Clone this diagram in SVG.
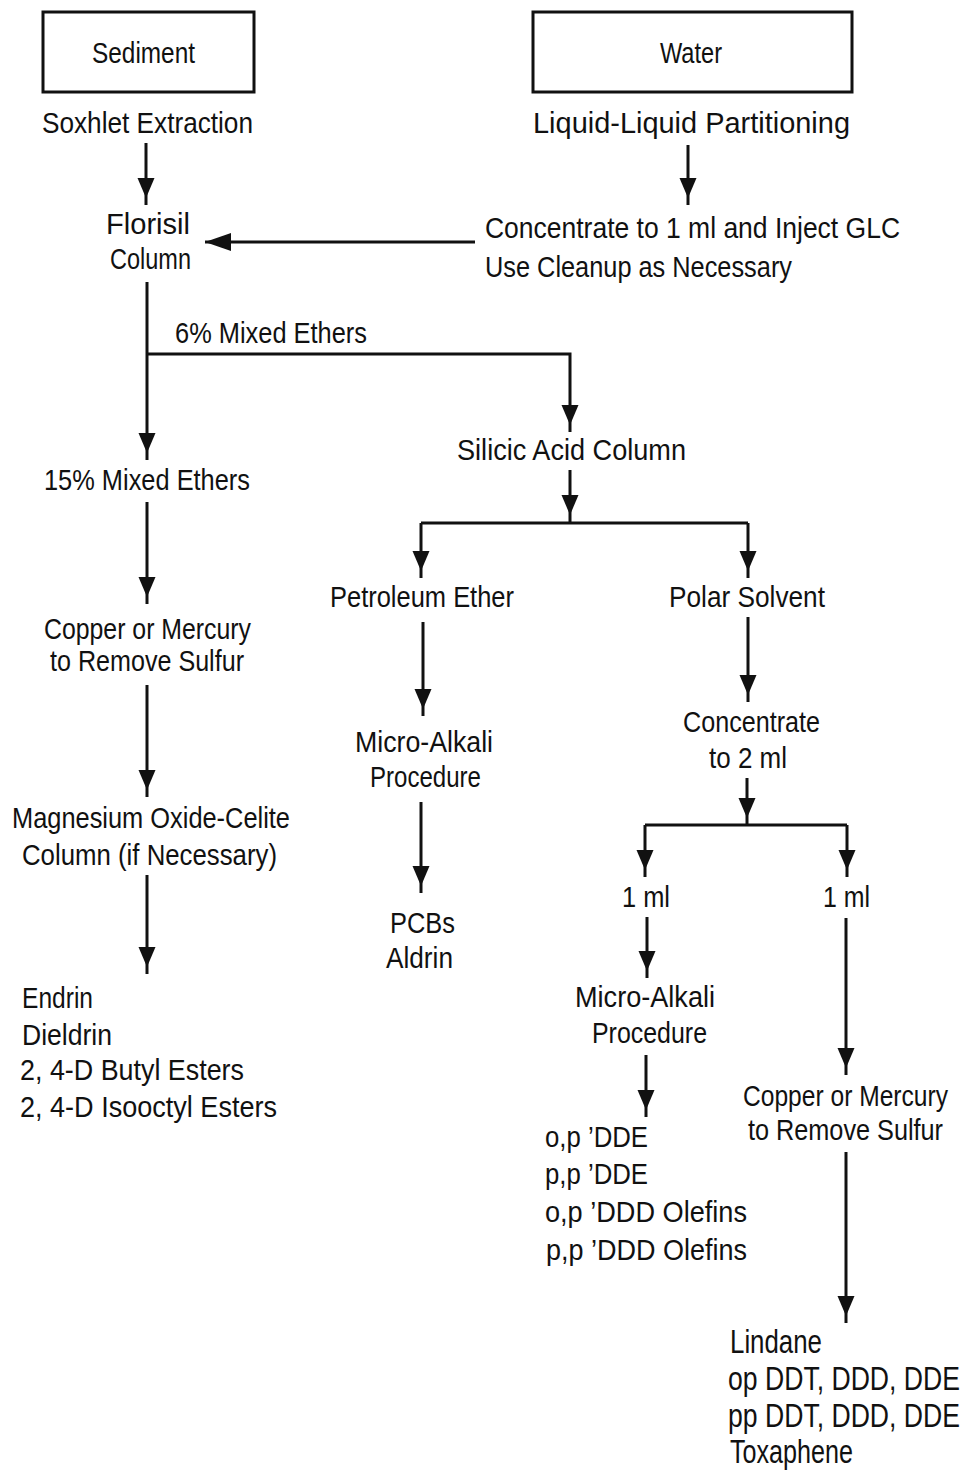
<svg xmlns="http://www.w3.org/2000/svg" width="967" height="1471" viewBox="0 0 967 1471">
<defs>
<style>
text{font-family:"Liberation Sans Narrow","Liberation Sans",Arial,sans-serif;font-size:30px;fill:#111;}
.big{font-size:33px;}
.box{fill:none;stroke:#111;stroke-width:3;}
.c{fill:none;stroke:#111;stroke-width:3;}
.a{marker-end:url(#ah);}
.h{marker-end:url(#ahl);}
</style>
<marker id="ah" markerUnits="userSpaceOnUse" markerWidth="40" markerHeight="24" viewBox="0 -12 40 24" refX="27" refY="0" orient="auto" overflow="visible">
<path d="M0,-8.5 L20,0 L0,8.5 Z" fill="#111"/>
</marker>
<marker id="ahl" markerUnits="userSpaceOnUse" markerWidth="40" markerHeight="24" viewBox="0 -12 40 24" refX="26" refY="0" orient="auto" overflow="visible">
<path d="M0,-9 L26,0 L0,9 Z" fill="#111"/>
</marker>
</defs>
<rect width="967" height="1471" fill="#fff"/>

<g id="connectors">
<line class="c a" x1="146" y1="143" x2="146" y2="205"/>
<line class="c a" x1="688" y1="145" x2="688" y2="205"/>
<line class="c h" x1="475" y1="242" x2="205" y2="242"/>
<line class="c a" x1="147" y1="282" x2="147" y2="460"/>
<path class="c a" d="M147,354 H570 V432"/>
<line class="c a" x1="570" y1="470" x2="570" y2="522"/>
<line class="c" x1="421" y1="523" x2="748" y2="523"/>
<line class="c a" x1="421" y1="523" x2="421" y2="578"/>
<line class="c a" x1="748" y1="523" x2="748" y2="578"/>
<line class="c a" x1="147" y1="502" x2="147" y2="604"/>
<line class="c a" x1="423" y1="622" x2="423" y2="716"/>
<line class="c a" x1="748" y1="617" x2="748" y2="702"/>
<line class="c a" x1="147" y1="685" x2="147" y2="797"/>
<line class="c a" x1="747" y1="778" x2="747" y2="825"/>
<line class="c" x1="645" y1="825" x2="847" y2="825"/>
<line class="c a" x1="645" y1="825" x2="645" y2="877"/>
<line class="c a" x1="847" y1="825" x2="847" y2="877"/>
<line class="c a" x1="421" y1="802" x2="421" y2="893"/>
<line class="c a" x1="147" y1="875" x2="147" y2="974"/>
<line class="c a" x1="647" y1="917" x2="647" y2="978"/>
<line class="c a" x1="846" y1="918" x2="846" y2="1075"/>
<line class="c a" x1="646" y1="1055" x2="646" y2="1117"/>
<line class="c a" x1="846" y1="1152" x2="846" y2="1323"/>
</g>

<g id="sediment">
<rect class="box" x="43" y="12" width="211" height="80"/>
<text x="92" y="63" textLength="103" lengthAdjust="spacingAndGlyphs">Sediment</text>
</g>
<g id="water">
<rect class="box" x="533" y="12" width="319" height="80"/>
<text x="660" y="63" textLength="62" lengthAdjust="spacingAndGlyphs">Water</text>
</g>
<g id="soxhlet">
<text x="42" y="133" textLength="211" lengthAdjust="spacingAndGlyphs">Soxhlet Extraction</text>
</g>
<g id="partitioning">
<text x="533" y="133" textLength="317" lengthAdjust="spacingAndGlyphs">Liquid-Liquid Partitioning</text>
</g>
<g id="florisil">
<text x="106" y="234" textLength="84" lengthAdjust="spacingAndGlyphs">Florisil</text>
<text x="110" y="269" textLength="81" lengthAdjust="spacingAndGlyphs">Column</text>
</g>
<g id="concentrate1">
<text x="485" y="238" textLength="415" lengthAdjust="spacingAndGlyphs">Concentrate to 1 ml and Inject GLC</text>
<text x="485" y="277" textLength="307" lengthAdjust="spacingAndGlyphs">Use Cleanup as Necessary</text>
</g>
<g id="ethers6">
<text x="175" y="343" textLength="192" lengthAdjust="spacingAndGlyphs">6% Mixed Ethers</text>
</g>
<g id="silicic">
<text x="457" y="460" textLength="229" lengthAdjust="spacingAndGlyphs">Silicic Acid Column</text>
</g>
<g id="ethers15">
<text x="44" y="490" textLength="206" lengthAdjust="spacingAndGlyphs">15% Mixed Ethers</text>
</g>
<g id="petroleum">
<text x="330" y="607" textLength="184" lengthAdjust="spacingAndGlyphs">Petroleum Ether</text>
</g>
<g id="polar">
<text x="669" y="607" textLength="156" lengthAdjust="spacingAndGlyphs">Polar Solvent</text>
</g>
<g id="copper1">
<text x="44" y="639" textLength="207" lengthAdjust="spacingAndGlyphs">Copper or Mercury</text>
<text x="50" y="671" textLength="194" lengthAdjust="spacingAndGlyphs">to Remove Sulfur</text>
</g>
<g id="microalkali1">
<text x="355" y="752" textLength="138" lengthAdjust="spacingAndGlyphs">Micro-Alkali</text>
<text x="370" y="787" textLength="111" lengthAdjust="spacingAndGlyphs">Procedure</text>
</g>
<g id="concentrate2">
<text x="683" y="732" textLength="137" lengthAdjust="spacingAndGlyphs">Concentrate</text>
<text x="709" y="768" textLength="78" lengthAdjust="spacingAndGlyphs">to 2 ml</text>
</g>
<g id="magnesium">
<text x="12" y="828" textLength="278" lengthAdjust="spacingAndGlyphs">Magnesium Oxide-Celite</text>
<text x="22" y="865" textLength="255" lengthAdjust="spacingAndGlyphs">Column (if Necessary)</text>
</g>
<g id="ml1">
<text x="622" y="907" textLength="48" lengthAdjust="spacingAndGlyphs">1 ml</text>
</g>
<g id="ml2">
<text x="823" y="907" textLength="47" lengthAdjust="spacingAndGlyphs">1 ml</text>
</g>
<g id="pcbs">
<text x="390" y="933" textLength="65" lengthAdjust="spacingAndGlyphs">PCBs</text>
<text x="386" y="968" textLength="67" lengthAdjust="spacingAndGlyphs">Aldrin</text>
</g>
<g id="endrin">
<text x="22" y="1008" textLength="71" lengthAdjust="spacingAndGlyphs">Endrin</text>
<text x="22" y="1045" textLength="90" lengthAdjust="spacingAndGlyphs">Dieldrin</text>
<text x="20" y="1080" textLength="224" lengthAdjust="spacingAndGlyphs">2, 4-D Butyl Esters</text>
<text x="20" y="1117" textLength="257" lengthAdjust="spacingAndGlyphs">2, 4-D Isooctyl Esters</text>
</g>
<g id="microalkali2">
<text x="575" y="1007" textLength="140" lengthAdjust="spacingAndGlyphs">Micro-Alkali</text>
<text x="592" y="1043" textLength="115" lengthAdjust="spacingAndGlyphs">Procedure</text>
</g>
<g id="copper2">
<text x="743" y="1106" textLength="205" lengthAdjust="spacingAndGlyphs">Copper or Mercury</text>
<text x="748" y="1140" textLength="195" lengthAdjust="spacingAndGlyphs">to Remove Sulfur</text>
</g>
<g id="dde">
<text x="545" y="1147" textLength="103" lengthAdjust="spacingAndGlyphs">o,p ’DDE</text>
<text x="545" y="1184" textLength="103" lengthAdjust="spacingAndGlyphs">p,p ’DDE</text>
<text x="545" y="1222" textLength="202" lengthAdjust="spacingAndGlyphs">o,p ’DDD Olefins</text>
<text x="546" y="1260" textLength="201" lengthAdjust="spacingAndGlyphs">p,p ’DDD Olefins</text>
</g>
<g id="lindane">
<text class="big" x="730" y="1353" textLength="92" lengthAdjust="spacingAndGlyphs">Lindane</text>
<text class="big" x="728" y="1390" textLength="232" lengthAdjust="spacingAndGlyphs">op DDT, DDD, DDE</text>
<text class="big" x="728" y="1427" textLength="232" lengthAdjust="spacingAndGlyphs">pp DDT, DDD, DDE</text>
<text class="big" x="730" y="1463" textLength="123" lengthAdjust="spacingAndGlyphs">Toxaphene</text>
</g>
</svg>
